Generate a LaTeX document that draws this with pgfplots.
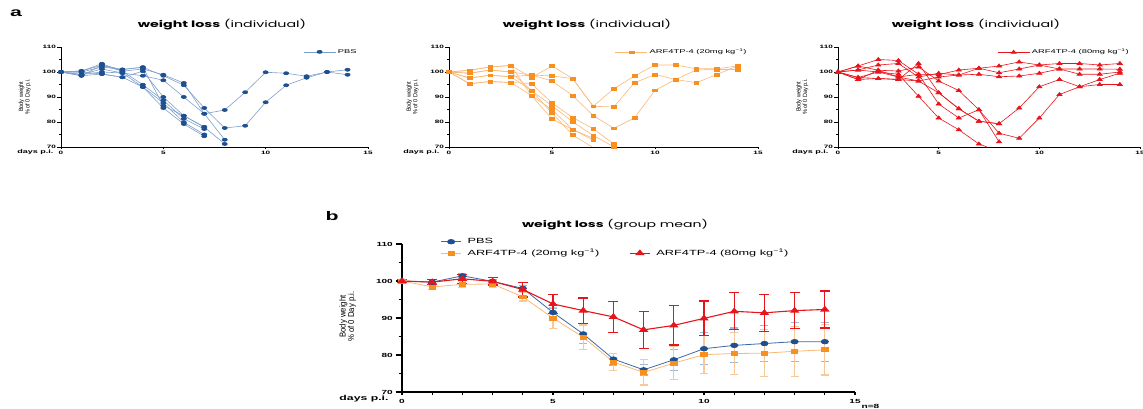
\documentclass[border=0pt]{standalone}
\usepackage{pgfplots}
\pgfplotsset{compat=1.18}
\usepackage{fontspec}
\setmainfont{Liberation Sans}[FakeStretch=1.7]
\newfontfamily\titlefont{Poppins}[FakeStretch=1.6]
\newfontfamily\rotfont{Liberation Sans}[FakeStretch=0.9]

\definecolor{pbsdark}{HTML}{1D4F91}
\definecolor{pbsline}{HTML}{7F9FCC}
\definecolor{pbsmean}{HTML}{3A69A8}
\definecolor{pbserr}{HTML}{9DB8DC}
\definecolor{orgdark}{HTML}{F7901E}
\definecolor{orgline}{HTML}{F8B878}
\definecolor{orgerr}{HTML}{F9C898}
\definecolor{hired}{HTML}{E8141B}

\pgfplotsset{
  gpbase/.style={scale only axis, xmin=0, xmax=15, ymin=70, ymax=110,
    axis lines*=left, axis line style={-}, clip=false,
    tick align=outside, xtick={0,5,10,15}, minor x tick num=4,
    ytick={70,80,90,100,110}, minor y tick num=1,
    /pgf/number format/assume math mode=true},
  toppanel/.style={gpbase, height=100pt,
    axis line style={line width=0.9pt},
    tick style={line width=0.8pt, black},
    major tick length=3.7pt, minor tick length=2pt,
    xtick style={/pgfplots/major tick length=2pt, /pgfplots/minor tick length=1.5pt},
    ticklabel style={font=\fontsize{4.8}{5}\selectfont\bfseries},
    xticklabel style={inner sep=0.6pt},
    yticklabel style={inner sep=1.2pt},
    ylabel={Body weight\\\% of 0 Day p.i.},
    ylabel style={at={(axis description cs:-0.118,0.5)}, anchor=center,
      align=center, font=\rotfont\fontsize{6.1}{6.5}\selectfont},
    legend style={at={(0.97,1.0)}, anchor=north east, draw=none, fill=none,
      font=\fontsize{5.5}{6}\selectfont, inner sep=0pt},
    legend image code/.code={\draw[mark repeat=2, mark phase=2, ##1]
      plot coordinates {(0pt,0pt) (16pt,0pt) (32pt,0pt)};}},
  meanlegend/.style={
    legend image code/.code={\draw[mark repeat=2, mark phase=2, ##1]
      plot coordinates {(0pt,0pt) (10pt,0pt) (20pt,0pt)};}},
  pbsind/.style={color=pbsline, line width=0.6pt, mark=*, mark size=2.6pt,
    mark options={fill=pbsdark, draw=pbsdark, yscale=0.6}},
  orgind/.style={color=orgline, line width=0.6pt, mark=square*, mark size=2.4pt,
    mark options={fill=orgdark, draw=orgdark, yscale=0.6}},
  redind/.style={color=hired, line width=0.6pt, mark=triangle*, mark size=3pt,
    mark options={fill=hired, draw=hired, yscale=0.7}},
}

\begin{document}
\begin{tikzpicture}
\path[use as bounding box] (0pt,0pt) rectangle (1143pt,-409pt);

% ---------- a: PBS individual ----------
\begin{axis}[toppanel, at={(61pt,-147pt)}, anchor=south west, width=307pt]
\addplot[pbsind] coordinates {(0,100) (1,100.4) (2,102.7) (3,100.3) (4,101.2) (5,98.9) (6,95.6) (7,83.3) (8,84.8) (9,91.9) (10,99.9) (11,99.5) (12,98.3) (13,100) (14,100.9)};
\addlegendentry{PBS}
\addplot[pbsind, forget plot] coordinates {(0,100) (1,100) (2,102) (3,101) (4,101.9) (5,98.5) (6,94.7) (7,85.6) (8,77.6) (9,78.5) (10,87.9) (11,94.7) (12,97.7) (13,100) (14,98.9)};
\addplot[pbsind, forget plot] coordinates {(0,100) (1,99) (2,101.2) (3,99.6) (4,98.5) (5,96.7) (6,90) (7,83.3) (8,72.9)};
\addplot[pbsind, forget plot] coordinates {(0,100) (1,98.5) (2,99.2) (3,97.9) (4,100.3) (5,90) (6,82.5) (7,78) (8,71.2)};
\addplot[pbsind, forget plot] coordinates {(0,100) (1,100.4) (2,103.3) (3,100.3) (4,94.9) (5,88.7) (6,81.3) (7,77.2)};
\addplot[pbsind, forget plot] coordinates {(0,100) (1,99) (2,100) (3,99.6) (4,94) (5,87.6) (6,79.9) (7,75)};
\addplot[pbsind, forget plot] coordinates {(0,100) (1,98.5) (2,102.7) (3,101) (4,101.9) (5,86.5) (6,82.5) (7,78)};
\addplot[pbsind, forget plot] coordinates {(0,100) (1,100) (2,99.2) (3,97.9) (4,94) (5,85.6) (6,79.2) (7,74.3)};
\end{axis}

% ---------- 20 mg individual ----------
\begin{axis}[toppanel, at={(449pt,-147pt)}, anchor=south west, width=309pt]
\addplot[orgind] coordinates {(0,100) (1,100.7) (2,102) (3,102.6) (4,97.8) (5,102.4) (6,97.4) (7,86.3) (8,93.3) (9,98.4) (10,102.8) (11,102.8) (12,101.3) (13,101.3) (14,102.4)};
\addlegendentry{ARF4TP-4 (20mg kg\textsuperscript{−1})}
\addplot[orgind, forget plot] coordinates {(0,100) (1,99.5) (2,100.8) (3,100) (4,98.8) (5,98.4) (6,97.4) (7,86.3) (8,86) (9,95.7) (10,99) (11,97) (12,100.8) (13,101) (14,101)};
\addplot[orgind, forget plot] coordinates {(0,100) (1,97.6) (2,98.7) (3,98.1) (4,98.8) (5,96.4) (6,90.6) (7,82.6) (8,77.5) (9,81.6) (10,92.7) (11,97) (12,95.7) (13,99) (14,102.4)};
\addplot[orgind, forget plot] coordinates {(0,100) (1,95.3) (2,96.2) (3,95.8) (4,95.4) (5,87.6) (6,81.8) (7,77.3) (8,71.2)};
\addplot[orgind, forget plot] coordinates {(0,100) (1,97.6) (2,98.7) (3,98.1) (4,92.6) (5,86.5) (6,80.1) (7,74.6) (8,70.1)};
\addplot[orgind, forget plot] coordinates {(0,100) (1,95.3) (2,96.2) (3,95.8) (4,90.6) (5,84.9) (6,77) (7,72.8)};
\addplot[orgind, forget plot] coordinates {(0,100) (1,99.5) (2,100.8) (3,100) (4,92.6) (5,83.6) (6,74.8)};
\addplot[orgind, forget plot, no marks] coordinates {(6,74.8) (6.95,70)};
\addplot[orgind, forget plot] coordinates {(0,100) (1,100.7) (2,102) (3,102.6) (4,90.6) (5,81.2) (6,77) (7,73.5)};
\end{axis}

% ---------- 80 mg individual ----------
\begin{axis}[toppanel, at={(838pt,-147pt)}, anchor=south west, width=302pt]
\addplot[redind] coordinates {(0,100) (1,102.4) (2,105) (3,104.6) (4,99.1) (5,98.9) (6,100.8) (7,101.5) (8,102.4) (9,104) (10,102.8) (11,103.4) (12,103.4) (13,102.8) (14,103.4)};
\addlegendentry{ARF4TP-4 (80mg kg\textsuperscript{−1})}
\addplot[redind, forget plot] coordinates {(0,100) (1,100.8) (2,102.8) (3,103.4) (4,98) (5,99.5) (6,98.8) (7,99.1) (8,98.1) (9,98.4) (10,99.5) (11,101.2) (12,101.2) (13,101.2) (14,101.1)};
\addplot[redind, forget plot] coordinates {(0,100) (1,97.8) (2,100) (3,98) (4,96.4) (5,98) (6,98.8) (7,101.5) (8,99.7) (9,101.2) (10,102.8) (11,101.2) (12,99.1) (13,99.1) (14,100)};
\addplot[redind, forget plot] coordinates {(0,100) (1,97) (2,97.4) (3,97) (4,103.4) (5,91.7) (6,85.3) (7,80.3) (8,79.3) (9,85.6) (10,94.1) (11,97) (12,94.1) (13,97) (14,99.5)};
\addplot[redind, forget plot] coordinates {(0,100) (1,102.4) (2,100.7) (3,100.4) (4,102) (5,96.4) (6,92.6) (7,84.9) (8,75.5) (9,73.5) (10,81.6) (11,91) (12,94.1) (13,95) (14,95)};
\addplot[redind, forget plot] coordinates {(0,100) (1,100.8) (2,100) (3,99.1) (4,90.3) (5,81.6) (6,76.9) (7,71.2)};
\addplot[redind, forget plot, no marks] coordinates {(7,71.2) (7.4,70)};
\addplot[redind, forget plot] coordinates {(0,100) (1,97) (2,100.7) (3,98) (4,99.1) (5,87.2) (6,81.6) (7,84.9) (8,72.1)};
\addplot[redind, forget plot] coordinates {(0,100) (1,97.8) (2,97.4) (3,97) (4,96.4) (5,91.7) (6,85.3) (7,80.3) (8,79.3)};
\end{axis}

% ---------- b: group mean ----------
\begin{axis}[gpbase, meanlegend, at={(402pt,-392pt)}, anchor=south west, width=453pt, height=148pt,
    axis line style={line width=1.3pt},
    tick style={line width=1.1pt, black},
    major tick length=6.5pt, minor tick length=3.5pt,
    xtick style={/pgfplots/major tick length=3pt, /pgfplots/minor tick length=2.5pt},
    ticklabel style={font=\fontsize{5.9}{6}\selectfont\bfseries},
    xticklabel style={inner sep=1pt},
    yticklabel style={inner sep=2.5pt},
    ylabel={Body weight\\\% of 0 Day p.i.},
    ylabel style={at={(axis description cs:-0.12,0.51)}, anchor=center,
      align=center, font=\rotfont\fontsize{8.6}{8.5}\selectfont},
    legend columns=2, legend cell align=left,
    legend style={at={(0.085,1.053)}, anchor=north west, draw=none, fill=none,
      font=\fontsize{7.5}{8}\selectfont, inner sep=0pt,
      /tikz/every odd column/.append style={column sep=4pt},
      /tikz/every even column/.append style={column sep=28pt},
      /tikz/every row/.append style={row sep=2pt}},
    error bars/y dir=both, error bars/y explicit]
\addplot[color=pbsmean, line width=0.8pt, mark=*, mark size=3.6pt,
    mark options={fill=pbsdark, draw=pbsdark, yscale=0.62},
    error bars/error bar style={color=pbserr, line width=1.1pt},
    error bars/error mark options={rotate=90, color=pbserr, line width=1.1pt, mark size=4pt}]
  table[x=x, y=y, y error=e] {
x y e
0 100 0.3
1 99.7 0.6
2 101.4 0.6
3 99.9 0.5
4 98.0 0.8
5 91.5 1.0
6 85.7 2.5
7 78.9 1.6
8 76.0 1.4
9 78.7 2.8
10 81.7 4.3
11 82.6 4.7
12 83.1 4.8
13 83.6 5.3
14 83.6 5.3
};
\addlegendentry{PBS}
\addlegendimage{empty legend}
\addlegendentry{}
\addplot[color=orgline, line width=0.8pt, mark=square*, mark size=3.2pt,
    mark options={fill=orgdark, draw=orgdark, yscale=0.62},
    error bars/error bar style={color=orgerr, line width=1.1pt},
    error bars/error mark options={rotate=90, color=orgerr, line width=1.1pt, mark size=4pt}]
  table[x=x, y=y, y error=e] {
x y e
0 100 0.3
1 98.4 0.8
2 99.1 0.9
3 99.2 0.9
4 95.7 1.1
5 90.0 2.8
6 84.8 3.3
7 78.1 2.3
8 75.3 3.4
9 77.8 4.5
10 80.1 5.2
11 80.4 5.6
12 80.5 6.4
13 81.0 6.8
14 81.4 6.8
};
\addlegendentry{ARF4TP-4 (20mg kg\textsuperscript{−1})}
\addplot[color=hired, line width=1.1pt, mark=triangle*, mark size=4.2pt,
    mark options={fill=hired, draw=hired, yscale=0.7},
    error bars/error bar style={color=hired, line width=1.2pt},
    error bars/error mark options={rotate=90, color=hired, line width=1.2pt, mark size=5pt}]
  table[x=x, y=y, y error=e] {
x y e
0 100 0.3
1 99.7 0.6
2 100.6 1.2
3 99.9 1.0
4 97.7 2.0
5 93.8 2.5
6 92.0 3.4
7 90.3 4.2
8 86.8 5.0
9 88.0 5.3
10 89.9 4.7
11 91.8 5.0
12 91.4 5.0
13 92.0 4.8
14 92.3 5.0
};
\addlegendentry{ARF4TP-4 (80mg kg\textsuperscript{−1})}
\end{axis}

% ---------- labels ----------
\node[font=\fontsize{12.5}{13}\selectfont\bfseries] at (16pt,-13pt) {a};
\node[font=\fontsize{12.5}{13}\selectfont\bfseries] at (332pt,-216pt) {b};
\node[font=\titlefont\fontsize{8.9}{9}\selectfont] at (222pt,-25pt) {\textbf{weight loss} (individual)};
\node[font=\titlefont\fontsize{8.9}{9}\selectfont] at (587pt,-25pt) {\textbf{weight loss} (individual)};
\node[font=\titlefont\fontsize{8.9}{9}\selectfont] at (976pt,-25pt) {\textbf{weight loss} (individual)};
\node[font=\titlefont\fontsize{8.8}{9}\selectfont] at (615pt,-225pt) {\textbf{weight loss} (group mean)};
\node[font=\fontsize{5.3}{6}\selectfont\bfseries, anchor=east] at (57pt,-152pt) {days p.i.};
\node[font=\fontsize{5.3}{6}\selectfont\bfseries, anchor=east] at (443pt,-152pt) {days p.i.};
\node[font=\fontsize{5.3}{6}\selectfont\bfseries, anchor=east] at (832pt,-152pt) {days p.i.};
\node[font=\fontsize{7.2}{8}\selectfont\bfseries, anchor=east] at (392pt,-399pt) {days p.i.};
\node[font=\fontsize{6}{7}\selectfont\bfseries, anchor=west] at (858pt,-406pt) {n=8};
\end{tikzpicture}
\end{document}
